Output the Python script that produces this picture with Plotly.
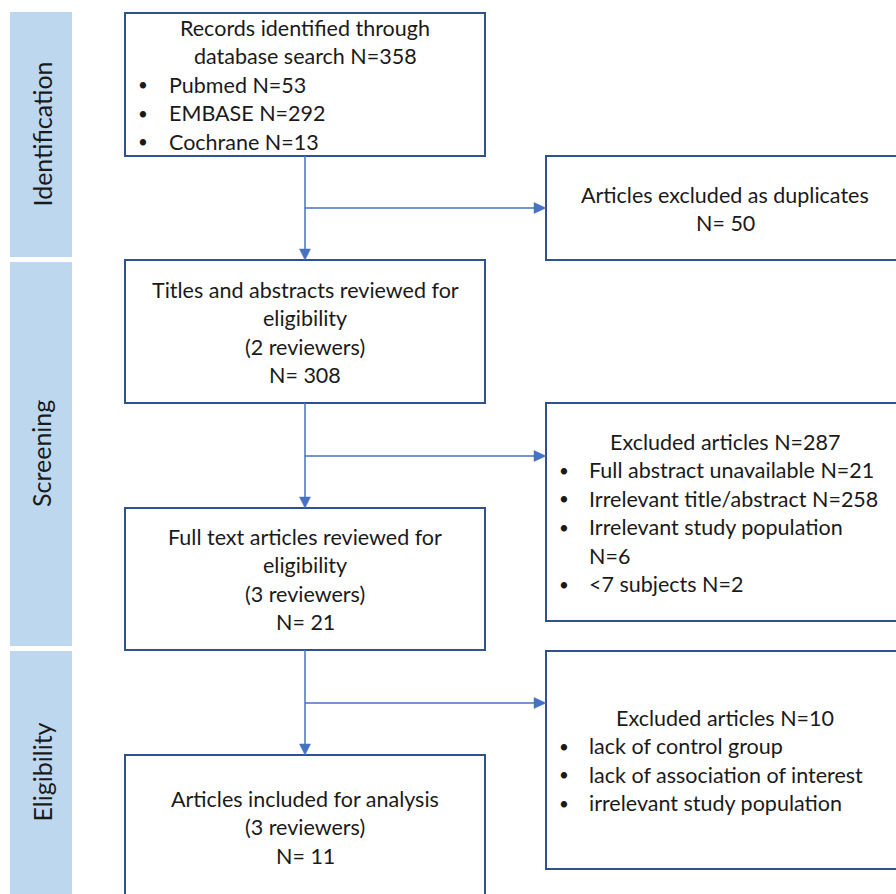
import plotly.graph_objects as go

W, H = 896, 894

# ---- content ----
stage_labels = ["Identification", "Screening", "Eligibility"]
stage_spans = [(12, 257), (262, 646), (651, 894)]

main_boxes = [
    {"lines": ["Records identified through", "database search N=358"],
     "bullets": ["Pubmed N=53", "EMBASE N=292", "Cochrane N=13"]},
    {"lines": ["Titles and abstracts reviewed for", "eligibility", "(2 reviewers)", "N= 308"], "bullets": []},
    {"lines": ["Full text articles reviewed for", "eligibility", "(3 reviewers)", "N= 21"], "bullets": []},
    {"lines": ["Articles included for analysis", "(3 reviewers)", "N= 11"], "bullets": []},
]
main_rects = [(125, 13, 485, 156), (125, 260, 485, 403), (125, 508, 485, 650), (125, 755, 485, 900)]
main_first_line = [28, 290, 537, 799]

side_boxes = [
    {"lines": ["Articles excluded as duplicates", "N= 50"], "bullets": []},
    {"lines": ["Excluded articles N=287"],
     "bullets": ["Full abstract unavailable N=21", "Irrelevant title/abstract N=258",
                 "Irrelevant study population", None, "<7 subjects N=2"],
     "cont": {3: "N=6"}},
    {"lines": ["Excluded articles N=10"],
     "bullets": ["lack of control group", "lack of association of interest",
                 "irrelevant study population"]},
]
side_rects = [(546, 156, 905, 260), (546, 403, 905, 621), (546, 651, 905, 869)]
side_first_line = [195, 442, 718]
branch_y = [208, 456, 703]

FONT = "Lato"
FS = 21.5
TXT = "#1a1a1a"
BOX_C = "#2F528F"
ARROW_C = "#4472C4"
SIDE_C = "#BDD7EE"
LH = 28.4

fig = go.Figure()
shapes = []
annos = []

def text(x, y, s, xanchor="center", size=FS):
    annos.append(dict(x=x, y=y, text=s, showarrow=False, xanchor=xanchor, yanchor="middle",
                      font=dict(family=FONT, size=size, color=TXT), xref="x", yref="y"))

# side stage bars
for lab, (y0, y1) in zip(stage_labels, stage_spans):
    shapes.append(dict(type="rect", x0=10, x1=72, y0=y0, y1=y1, fillcolor=SIDE_C,
                       line=dict(width=0), layer="below"))
    annos.append(dict(x=41, y=(y0 + y1) / 2, text=lab, textangle=-90, showarrow=False,
                      font=dict(family=FONT, size=25, color=TXT), xref="x", yref="y"))

def box(r):
    shapes.append(dict(type="rect", x0=r[0], y0=r[1], x1=r[2], y1=r[3],
                       line=dict(color=BOX_C, width=2), fillcolor="white"))

# main boxes
for b, r, fy in zip(main_boxes, main_rects, main_first_line):
    box(r)
    y = fy
    for ln in b["lines"]:
        text(305, y, ln)
        y += LH
    for bl in b["bullets"]:
        text(143, y, "•", xanchor="center", size=17)
        text(167, y, bl, xanchor="left")
        y += LH

# side boxes
for b, r, fy in zip(side_boxes, side_rects, side_first_line):
    box(r)
    y = fy
    for ln in b["lines"]:
        text(725, y, ln)
        y += LH
    cont = b.get("cont", {})
    for i, bl in enumerate(b["bullets"]):
        if bl is None:
            text(587, y, cont[i], xanchor="left")
        else:
            text(564, y, "•", xanchor="center", size=17)
            text(587, y, bl, xanchor="left")
        y += LH

# connectors
def down_arrow(x, y0, y1):
    shapes.append(dict(type="line", x0=x, x1=x, y0=y0, y1=y1 - 10,
                       line=dict(color=ARROW_C, width=1.5)))
    shapes.append(dict(type="path", path=f"M {x-5.5} {y1-11} L {x+5.5} {y1-11} L {x} {y1} Z",
                       fillcolor=ARROW_C, line=dict(color=ARROW_C, width=0.5)))

def right_arrow(x0, x1, y):
    shapes.append(dict(type="line", x0=x0, x1=x1 - 10, y0=y, y1=y,
                       line=dict(color=ARROW_C, width=1.5)))
    shapes.append(dict(type="path", path=f"M {x1-12} {y-5.5} L {x1-12} {y+5.5} L {x1} {y} Z",
                       fillcolor=ARROW_C, line=dict(color=ARROW_C, width=0.5)))

for i in range(3):
    down_arrow(305, main_rects[i][3], main_rects[i + 1][1])
    right_arrow(305, side_rects[i][0], branch_y[i])

fig.update_layout(
    width=W, height=H, margin=dict(l=0, r=0, t=0, b=0),
    paper_bgcolor="white", plot_bgcolor="white",
    xaxis=dict(range=[0, W], visible=False, fixedrange=True),
    yaxis=dict(range=[H, 0], visible=False, fixedrange=True),
    shapes=shapes, annotations=annos, showlegend=False,
)
fig.write_html("out.html", config={"displayModeBar": False},
               post_script="document.body.style.margin='0';document.body.style.overflow='hidden';")
